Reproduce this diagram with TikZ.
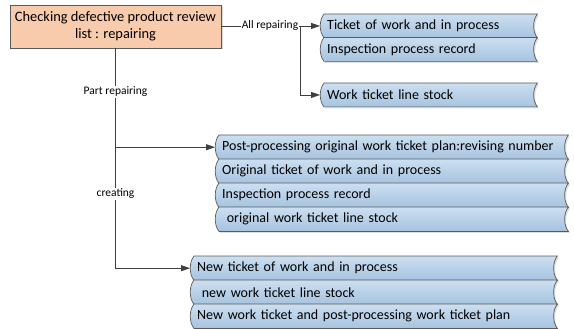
\documentclass[tikz,border=0pt]{standalone}
\usepackage{fontspec}
\setmainfont{Carlito}
\usetikzlibrary{arrows.meta,backgrounds,calc}
\definecolor{peach}{HTML}{F7CBAB}
\definecolor{boxtop}{HTML}{CCDFF0}
\definecolor{boxbot}{HTML}{A6C3DF}
\definecolor{edge}{HTML}{5A5A5A}
\definecolor{conn}{HTML}{3F3F3F}
\newcommand{\tapeshape}[1]{%
  \fill[black!25,opacity=0.5] ($(#1.north west)+(5.5,-1.5)$) -- ($(#1.north east)+(1.5,-1.5)$)
    .. controls +(-5,-6) and +(-5,6) .. ($(#1.south east)+(1.5,-1.5)$)
    -- ($(#1.south west)+(5.5,-1.5)$)
    .. controls +(-5,6) and +(-5,-6) .. ($(#1.north west)+(5.5,-1.5)$) -- cycle;
  \shade[top color=boxtop,bottom color=boxbot,draw=edge,line width=0.7pt]
    ($(#1.north west)+(4,0)$) -- (#1.north east)
    .. controls +(-5,-6) and +(-5,6) .. (#1.south east)
    -- ($(#1.south west)+(4,0)$)
    .. controls +(-5,6) and +(-5,-6) .. ($(#1.north west)+(4,0)$) -- cycle;}
\begin{document}
\begin{tikzpicture}[x=1pt,y=1pt,
  tbox/.style={anchor=north west,inner xsep=7pt,inner ysep=0pt,text width=#1,
    align=left,font=\fontsize{14}{16}\selectfont},
  mainbox/.style={draw=edge,line width=0.7pt,fill=peach,minimum width=211pt,
    minimum height=43pt,align=center,inner sep=0pt,font=\fontsize{14.4}{17}\selectfont},
  lbl/.style={fill=white,inner sep=1pt,font=\fontsize{11.5}{13}\selectfont},
  arr/.style={draw=conn,line width=0.8pt,-{Triangle[length=9pt,width=6pt]}},
  ln/.style={draw=conn,line width=0.8pt}]
\useasboundingbox (0,0) rectangle (574,-329);
\begin{scope}
\clip (0,0) rectangle (574,-329);
% group 1
\node[tbox=203pt,minimum height=23.5pt] (g1a) at (320,-14) {Ticket of work and in process};
\node[tbox=203pt,minimum height=23.5pt] (g1b) at (320,-37.5) {Inspection process record};
\node[tbox=203pt,minimum height=23.5pt] (g1c) at (320,-83) {Work ticket line stock};
% group 2
\node[tbox=339pt,minimum height=24pt] (g2a) at (215,-135) {Post-processing original work ticket plan:revising number};
\node[tbox=339pt,minimum height=24pt] (g2b) at (215,-159) {Original ticket of work and in process};
\node[tbox=339pt,minimum height=24pt] (g2c) at (215,-183) {Inspection process record};
\node[tbox=339pt,minimum height=24pt] (g2d) at (215,-207) {\ original work ticket line stock};
% group 3
\node[tbox=353pt,minimum height=24pt] (g3a) at (190,-256) {New ticket of work and in process};
\node[tbox=353pt,minimum height=24pt] (g3b) at (190,-280) {\ new work ticket line stock};
\node[tbox=353pt,minimum height=24pt] (g3c) at (190,-304) {New work ticket and post-processing work ticket plan};
\begin{scope}[on background layer]
\foreach \n in {g1a,g1b,g1c,g2a,g2b,g2c,g2d,g3a,g3b,g3c}{\tapeshape{\n}}
\end{scope}
\end{scope}
% main box
\fill[black!30,opacity=0.5] (11.5,-6.5) rectangle (222.5,-49.5);
\node[mainbox] (main) at (115.5,-26.5) {Checking defective product review\\list : repairing};
% connectors
\coordinate (br) at (300.5,0);
\draw[arr] (main.east |- g1a.west) -- (g1a.west);
\draw[arr] (br |- g1a.west) |- (g1c.west);
\draw[arr] (main.south) |- (g3a.west);
\draw[arr] (main.south |- g2a.west) -- (g2a.west);
% labels
\node[lbl] (lall) at (270,-25.75) {All repairing};
\node[lbl] (lpart) at (115.5,-92) {Part repairing};
\node[lbl] (lcre) at (115.5,-194) {creating};
\end{tikzpicture}
\end{document}
